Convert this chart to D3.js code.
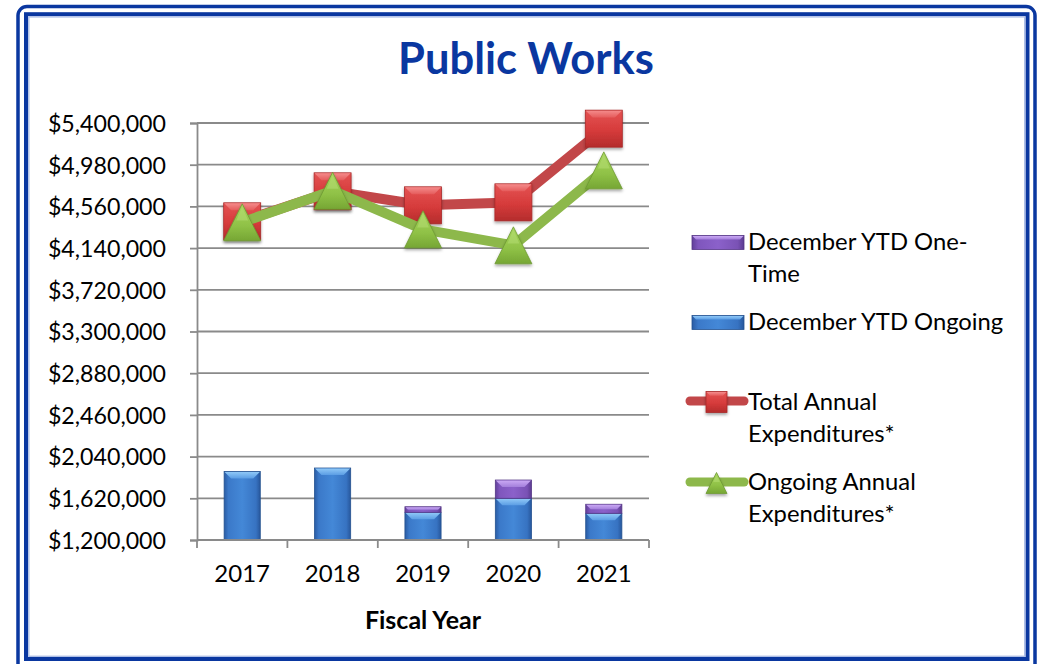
<!DOCTYPE html>
<html>
<head>
<meta charset="utf-8">
<script src="https://cdn.jsdelivr.net/npm/d3@7"></script>
<style>
  body { margin: 0; background: #fff; }
  svg { display: block; font-family: Lato, "Open Sans", sans-serif; }
</style>
</head>
<body>
<svg id="chart" width="1038" height="664"></svg>
<script>
// Fiscal years and dollar amounts
const categories = ["2017", "2018", "2019", "2020", "2021"];
const ytdOngoing = [1890000, 1925000, 1479000, 1620000, 1469000];
const ytdOneTime = [0, 0, 56000, 184000, 91000];
const totalAnnual = [4410000, 4712000, 4571000, 4601000, 5343000];
const ongoingAnnual = [4400000, 4718000, 4329000, 4168000, 4923000];
const yTickValues = [1200000, 1620000, 2040000, 2460000, 2880000, 3300000,
                     3720000, 4140000, 4560000, 4980000, 5400000];
const legendLines = [["December YTD One-", "Time"], ["December YTD Ongoing"],
                     ["Total Annual", "Expenditures*"], ["Ongoing Annual", "Expenditures*"]];

const svg = d3.select("#chart");
const plot = { left: 197, right: 649, top: 123, bottom: 540 };

// ---------- gradients & filters ----------
const defs = svg.append("defs");
function grad(id, stops, vertical) {
  const g = defs.append("linearGradient").attr("id", id)
    .attr("x1", 0).attr("y1", 0).attr("x2", vertical ? 0 : 1).attr("y2", vertical ? 1 : 0);
  stops.forEach(([o, c]) => g.append("stop").attr("offset", o).attr("stop-color", c));
}
grad("blueBody", [[0, "#2a5ca4"], [0.12, "#3b79c9"], [0.5, "#4488d7"], [0.88, "#3773c2"], [1, "#27579c"]]);
grad("blueCap", [[0, "#8fc8f7"], [1, "#5b9de4"]], true);
grad("purpleBody", [[0, "#61409a"], [0.12, "#7f56bd"], [0.5, "#8b61ca"], [0.88, "#7a52b5"], [1, "#5b3b90"]]);
grad("purpleCap", [[0, "#caa8f4"], [1, "#a37fdb"]], true);
grad("redBody", [[0, "#e45353"], [0.55, "#d63b3b"], [1, "#b42c2c"]], true);
grad("redCap", [[0, "#f48a8a"], [1, "#e55c5c"]], true);
grad("greenBody", [[0, "#a9d65f"], [0.6, "#8fc146"], [1, "#76a634"]], true);

const shadow = defs.append("filter").attr("id", "shadow")
  .attr("x", "-30%").attr("y", "-30%").attr("width", "160%").attr("height", "170%");
shadow.append("feDropShadow").attr("dx", 0).attr("dy", 2).attr("stdDeviation", 1.6)
  .attr("flood-color", "#000").attr("flood-opacity", 0.35);

// ---------- frame ----------
svg.append("rect").attr("x", 18).attr("y", 6.5).attr("width", 1017).attr("height", 690)
  .attr("rx", 9).attr("fill", "none").attr("stroke", "#0a37a0").attr("stroke-width", 3.5);
svg.append("rect").attr("x", 26).attr("y", 14.2).attr("width", 1001.5).attr("height", 644.8)
  .attr("fill", "none").attr("stroke", "#0a37a0").attr("stroke-width", 4);
svg.append("rect").attr("x", 28.8).attr("y", 16.9).attr("width", 995.9).attr("height", 639.4)
  .attr("fill", "none").attr("stroke", "#aebfe6").attr("stroke-width", 1.4);

// ---------- title ----------
svg.append("text").attr("x", 526).attr("y", 74).attr("text-anchor", "middle")
  .attr("font-size", 43.5).attr("font-weight", 700).attr("fill", "#0a37a0")
  .text("Public Works");

// ---------- scales ----------
const x = d3.scaleBand().domain(categories).range([plot.left, plot.right]).padding(0);
const y = d3.scaleLinear().domain([yTickValues[0], yTickValues[yTickValues.length - 1]])
  .range([plot.bottom, plot.top]);

const gridColor = "#8a8a8a";

// gridlines
svg.append("g").selectAll("line").data(yTickValues.slice(1)).join("line")
  .attr("x1", plot.left).attr("x2", plot.right)
  .attr("y1", d => y(d)).attr("y2", d => y(d))
  .attr("stroke", gridColor).attr("stroke-width", 1.8);

// y axis
const yAxis = svg.append("g").attr("transform", `translate(${plot.left},0)`)
  .call(d3.axisLeft(y).tickValues(yTickValues).tickSize(7).tickPadding(24)
    .tickFormat(d => "$" + d3.format(",")(d)));
yAxis.select(".domain").attr("stroke", gridColor).attr("stroke-width", 1.8);
yAxis.selectAll(".tick line").attr("stroke", gridColor).attr("stroke-width", 1.8);
yAxis.selectAll(".tick text").attr("font-size", 23.2).attr("fill", "#000")
  .attr("font-family", "Lato, sans-serif").attr("dy", "0.36em");

// ---------- stacked bars (stacked up from the axis minimum) ----------
const table = categories.map((c, i) => ({ year: c, ongoing: ytdOngoing[i], oneTime: ytdOneTime[i] }));
const stacked = d3.stack().keys(["ongoing", "oneTime"])(table);
const base = yTickValues[0];
const barW = x.bandwidth() * 0.4;
const barStyles = { ongoing: ["url(#blueBody)", "url(#blueCap)", "#24528f"],
                    oneTime: ["url(#purpleBody)", "url(#purpleCap)", "#553685"] };

const barsG = svg.append("g");
stacked.forEach(layer => {
  const [body, cap, edge] = barStyles[layer.key];
  layer.forEach(seg => {
    if (seg[1] - seg[0] <= 0) return;
    const bx = x(seg.data.year) + (x.bandwidth() - barW) / 2;
    const yTop = y(seg[1]);
    const yBot = y(Math.max(seg[0], base));
    const h = yBot - yTop;
    const g = barsG.append("g");
    g.append("rect").attr("x", bx).attr("y", yTop).attr("width", barW).attr("height", h)
      .attr("fill", body).attr("stroke", edge).attr("stroke-width", 0.8);
    const capH = Math.min(7, h * 0.55);
    g.append("path")
      .attr("d", `M${bx + 0.5},${yTop + 0.5} L${bx + barW - 0.5},${yTop + 0.5} L${bx + barW - capH},${yTop + capH} L${bx + capH},${yTop + capH} Z`)
      .attr("fill", cap);
  });
});

// x axis line & boundary ticks
svg.append("line").attr("x1", plot.left).attr("x2", plot.right)
  .attr("y1", plot.bottom).attr("y2", plot.bottom)
  .attr("stroke", gridColor).attr("stroke-width", 1.8);
const boundaries = categories.map(c => x(c)).concat([x.range()[1]]);
svg.append("g").selectAll("line").data(boundaries).join("line")
  .attr("x1", d => d).attr("x2", d => d).attr("y1", plot.bottom).attr("y2", plot.bottom + 8)
  .attr("stroke", gridColor).attr("stroke-width", 1.8);

const xAxis = svg.append("g").attr("transform", `translate(0,${plot.bottom})`)
  .call(d3.axisBottom(x).tickSize(0).tickPadding(25));
xAxis.select(".domain").remove();
xAxis.selectAll(".tick text").attr("font-size", 24).attr("fill", "#000")
  .attr("font-family", "Lato, sans-serif");

svg.append("text").attr("x", 423).attr("y", 629).attr("text-anchor", "middle")
  .attr("font-size", 25).attr("font-weight", 700).attr("fill", "#000").text("Fiscal Year");

// ---------- lines & markers ----------
const cx = c => x(c) + x.bandwidth() / 2;
const lineGen = d3.line().x(d => cx(d.year)).y(d => y(d.value));

function squareMarker(g, px, py, s) {
  const m = g.append("g").attr("filter", "url(#shadow)");
  m.append("rect").attr("x", px - s / 2).attr("y", py - s / 2).attr("width", s).attr("height", s)
    .attr("fill", "url(#redBody)").attr("stroke", "#a82a2a").attr("stroke-width", 0.8);
  const b = s * 0.2;
  m.append("path")
    .attr("d", `M${px - s / 2 + 0.5},${py - s / 2 + 0.5} L${px + s / 2 - 0.5},${py - s / 2 + 0.5} L${px + s / 2 - b},${py - s / 2 + b} L${px - s / 2 + b},${py - s / 2 + b} Z`)
    .attr("fill", "url(#redCap)");
}
function triangleMarker(g, px, py, s) {
  const m = g.append("g").attr("filter", "url(#shadow)");
  const h = s;
  m.append("path")
    .attr("d", `M${px},${py - h / 2} L${px + s / 2},${py + h / 2} L${px - s / 2},${py + h / 2} Z`)
    .attr("fill", "url(#greenBody)").attr("stroke", "#6f9a34").attr("stroke-width", 0.8);
  m.append("path")
    .attr("d", `M${px},${py - h / 2 + 3} L${px + s * 0.16},${py - h * 0.05} L${px - s * 0.16},${py - h * 0.05} Z`)
    .attr("fill", "#b4dc72").attr("opacity", 0.55);
}

const lineSeries = [
  { values: totalAnnual, color: "#c24749", marker: squareMarker },
  { values: ongoingAnnual, color: "#8db84b", marker: triangleMarker }
];
lineSeries.forEach(s => {
  const pts = categories.map((c, i) => ({ year: c, value: s.values[i] }));
  const g = svg.append("g");
  g.append("path").datum(pts).attr("d", lineGen).attr("fill", "none")
    .attr("stroke", s.color).attr("stroke-width", 10).attr("stroke-linejoin", "round");
  pts.forEach(p => s.marker(g, cx(p.year), y(p.value), 37));
});

// ---------- legend ----------
const legend = svg.append("g").attr("font-size", 23.8).attr("fill", "#000");
const legendRows = [
  { kind: "bar", body: "url(#purpleBody)", cap: "url(#purpleCap)", edge: "#553685", y: 242.5, baselines: [250, 282] },
  { kind: "bar", body: "url(#blueBody)", cap: "url(#blueCap)", edge: "#24528f", y: 322.5, baselines: [330] },
  { kind: "line", color: "#c24749", marker: squareMarker, y: 401, baselines: [410, 442] },
  { kind: "line", color: "#8db84b", marker: triangleMarker, y: 482, baselines: [490, 522] }
];
legendRows.forEach((r, i) => {
  if (r.kind === "bar") {
    legend.append("rect").attr("x", 692).attr("y", r.y - 7).attr("width", 52).attr("height", 14)
      .attr("fill", r.body).attr("stroke", r.edge).attr("stroke-width", 0.8);
    legend.append("path")
      .attr("d", `M692.5,${r.y - 6.5} L743.5,${r.y - 6.5} L740,${r.y - 3} L696,${r.y - 3} Z`)
      .attr("fill", r.cap);
  } else {
    legend.append("line").attr("x1", 690).attr("x2", 744).attr("y1", r.y).attr("y2", r.y)
      .attr("stroke", r.color).attr("stroke-width", 9).attr("stroke-linecap", "round");
    r.marker(legend, 716.5, r.y + 1, 21);
  }
  legendLines[i].forEach((t, j) => {
    legend.append("text").attr("x", 748).attr("y", r.baselines[j]).text(t);
  });
});
</script>
</body>
</html>
